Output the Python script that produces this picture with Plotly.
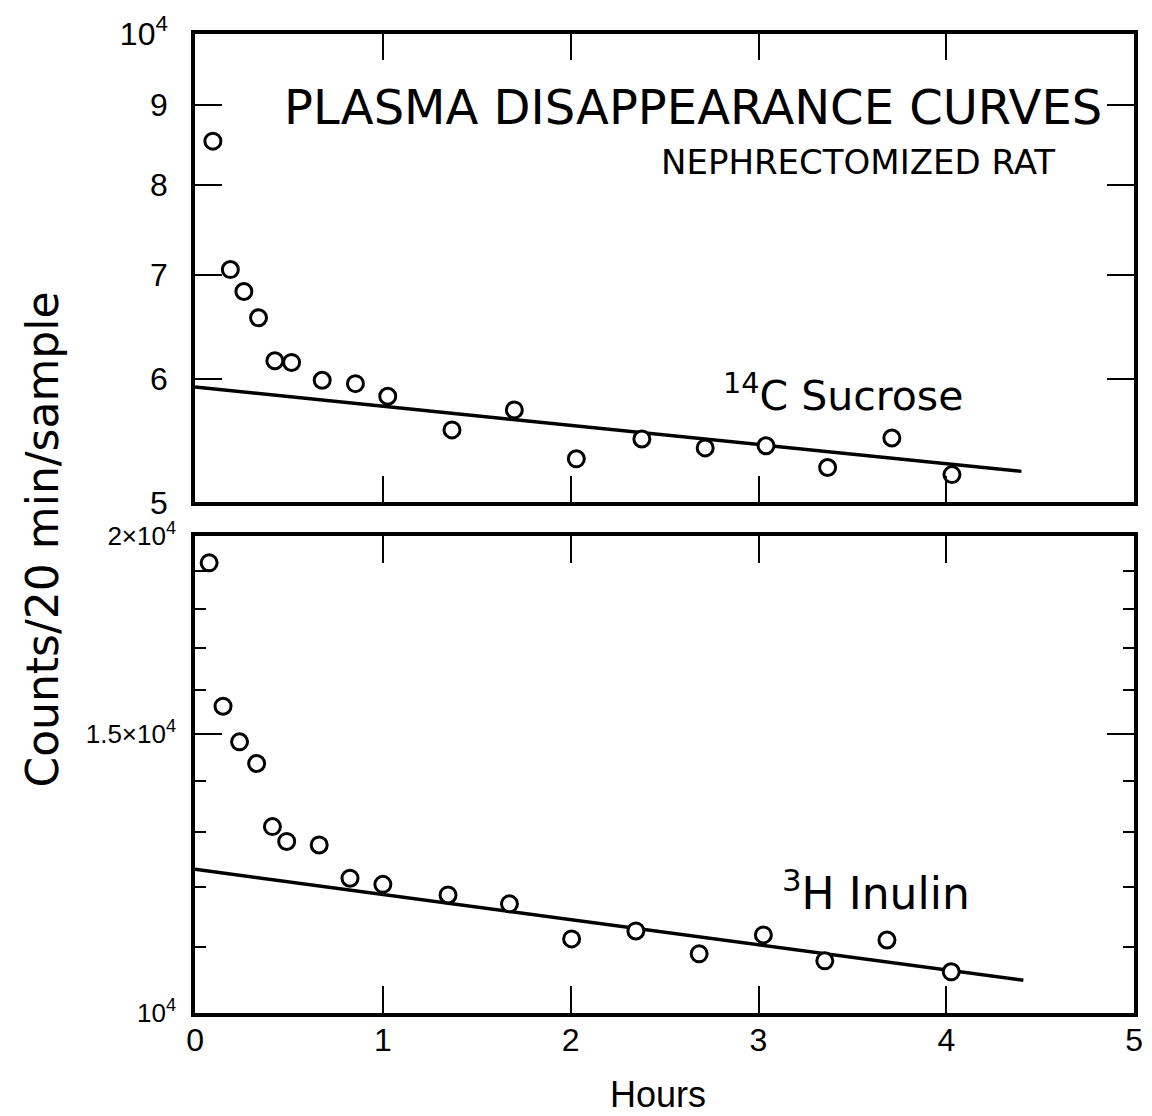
import plotly.graph_objects as go

# 14C sucrose: sampling times (h) and plasma counts per 20 min sample
sucrose_hours = [0.095, 0.188, 0.26, 0.338, 0.425, 0.514, 0.677, 0.854, 1.026,
                 1.368, 1.70, 2.03, 2.379, 2.716, 3.04, 3.368, 3.71, 4.03]
sucrose_counts = [8530, 7055, 6830, 6570, 6165, 6150, 5990, 5960, 5850,
                  5566, 5733, 5333, 5492, 5420, 5437, 5265, 5500, 5210]
sucrose_fit_hours = [0, 4.4]
sucrose_fit_counts = [5930, 5235]

# 3H inulin
inulin_hours = [0.075, 0.149, 0.237, 0.328, 0.412, 0.488, 0.661, 0.825, 1.0,
                1.347, 1.674, 2.005, 2.347, 2.684, 3.026, 3.353, 3.684, 4.026]
inulin_counts = [19240, 15620, 14830, 14370, 13110, 12830, 12765, 12163, 12054,
                 11870, 11717, 11135, 11264, 10895, 11200, 10785, 11117, 10614]
inulin_fit_hours = [0, 4.41]
inulin_fit_counts = [12320, 10486]

# axis ticks
hour_ticks = [0, 1, 2, 3, 4, 5]
top_tickvals = [5000, 6000, 7000, 8000, 9000, 10000]
top_ticktext = ["5", "6", "7", "8", "9", "10<sup>4</sup>"]
bottom_tickvals = [10000, 15000, 20000]
bottom_ticktext = ["10<sup>4</sup>", "1.5×10<sup>4</sup>", "2×10<sup>4</sup>"]
bottom_minor = [11000, 12000, 13000, 14000, 16000, 17000, 18000, 19000]

FONT = "Liberation Sans, Arial, Helvetica, sans-serif"
WIDE = "DejaVu Sans, Verdana, sans-serif"
W, H = 1152, 1135


def px(x):
    return x / W


def py(y):
    return 1 - y / H


fig = go.Figure()

line_style = dict(color="black", width=3.5)
marker_style = dict(symbol="circle", size=16, color="white",
                    line=dict(color="black", width=3))

# top panel (sucrose)
fig.add_trace(go.Scatter(x=sucrose_fit_hours, y=sucrose_fit_counts, mode="lines",
                         line=line_style, xaxis="x2", yaxis="y2", showlegend=False))
fig.add_trace(go.Scatter(x=sucrose_hours, y=sucrose_counts, mode="markers",
                         marker=marker_style, xaxis="x2", yaxis="y2", showlegend=False))
# bottom panel (inulin)
fig.add_trace(go.Scatter(x=inulin_fit_hours, y=inulin_fit_counts, mode="lines",
                         line=line_style, xaxis="x", yaxis="y", showlegend=False))
fig.add_trace(go.Scatter(x=inulin_hours, y=inulin_counts, mode="markers",
                         marker=marker_style, xaxis="x", yaxis="y", showlegend=False))

x_dom = [px(189), px(1143)]
frame = dict(showline=True, linecolor="black", linewidth=3.5, mirror="ticks",
             ticks="inside", ticklen=27, tickwidth=2, tickcolor="black",
             showgrid=False, zeroline=False)

fig.update_layout(
    width=W, height=H, margin=dict(l=0, r=0, t=0, b=0),
    paper_bgcolor="white", plot_bgcolor="white",
    font=dict(family=FONT, color="black"),
    xaxis=dict(domain=x_dom, range=[0, 5], tickvals=hour_ticks,
               ticktext=[str(v) for v in hour_ticks], anchor="y",
               tickfont=dict(size=32), ticklabelstandoff=-4, **frame),
    xaxis2=dict(domain=x_dom, range=[0, 5], tickvals=hour_ticks,
                showticklabels=False, anchor="y2", matches="x", **frame),
    yaxis=dict(domain=[py(1027), py(533)], type="log",
               range=[4, 4.30103], tickvals=bottom_tickvals,
               ticktext=bottom_ticktext, anchor="x", tickfont=dict(size=26),
               ticklabelstandoff=10,
               minor=dict(tickvals=bottom_minor, ticks="inside", ticklen=11,
                          tickwidth=2, tickcolor="black", showgrid=False),
               **frame),
    yaxis2=dict(domain=[py(498), py(12)], type="log",
                range=[3.69897, 4], tickvals=top_tickvals,
                ticktext=top_ticktext, anchor="x2", tickfont=dict(size=32),
                ticklabelstandoff=17, **frame),
)

annotations = [
    dict(text="PLASMA DISAPPEARANCE CURVES", x=px(1112), y=py(88),
         xanchor="right", yanchor="middle", font=dict(size=48, family=WIDE)),
    dict(text="NEPHRECTOMIZED RAT", x=px(1065), y=py(145),
         xanchor="right", yanchor="middle", font=dict(size=34, family=WIDE)),
    dict(text="<sup>14</sup>C Sucrose", x=px(723), y=py(385),
         xanchor="left", yanchor="middle", font=dict(size=41, family=WIDE)),
    dict(text="<sup>3</sup>H Inulin", x=px(783), y=py(900),
         xanchor="left", yanchor="middle", font=dict(size=44, family=WIDE)),
    dict(text="Hours", x=px(659), y=py(1112),
         xanchor="center", yanchor="middle", font=dict(size=36)),
    dict(text="Counts/20 min/sample", x=px(34), y=py(536), textangle=-90,
         xanchor="center", yanchor="middle", font=dict(size=44, family=WIDE)),
]
for a in annotations:
    a.update(xref="paper", yref="paper", showarrow=False)
fig.update_layout(annotations=annotations)

fig.write_html("out.html")
